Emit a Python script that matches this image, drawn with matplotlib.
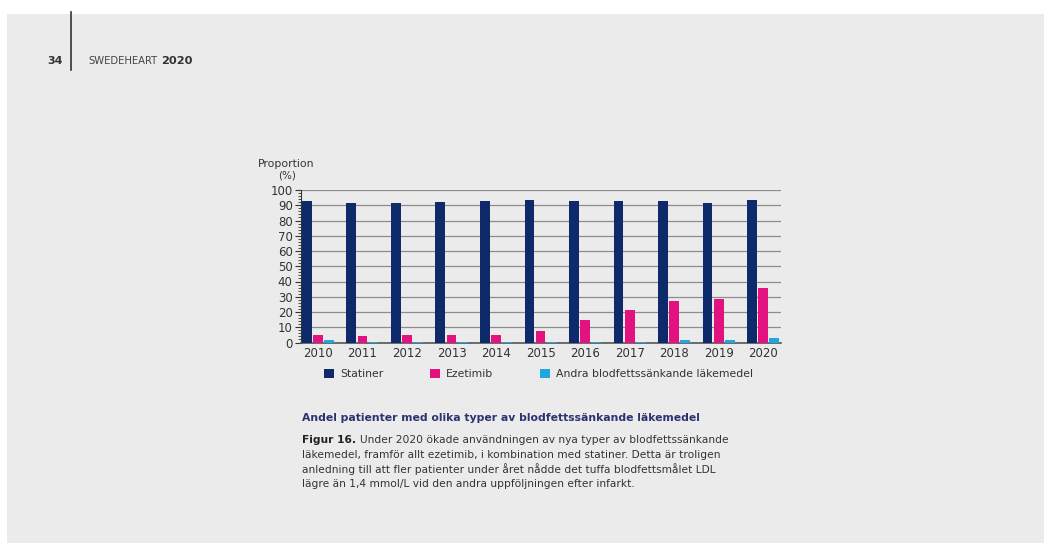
import matplotlib.pyplot as plt
import numpy as np
from matplotlib.patches import Rectangle
from matplotlib.ticker import MultipleLocator

plt.rcParams['font.family'] = ['DejaVu Sans']

years = ['2010', '2011', '2012', '2013', '2014', '2015',
         '2016', '2017', '2018', '2019', '2020']
statiner = [92.8, 91.7, 91.7, 92.1, 92.8, 93.4, 92.8, 92.8, 92.8, 91.7, 93.4]
ezetimib = [4.8, 4.2, 4.8, 4.8, 4.8, 7.5, 14.9, 21.3, 27.0, 28.7, 36.0]
andra = [1.6, 0.6, 0.6, 0.6, 0.6, 0.6, 0.6, 0.6, 1.5, 1.5, 2.9]
labels = ['Statiner', 'Ezetimib', 'Andra blodfettssänkande läkemedel']
colors = ['#0e2a6a', '#e2137f', '#1ea7e1']

bg = '#ebebeb'
fig = plt.figure(figsize=(10.44, 5.43), dpi=100, facecolor='white')
fig.patches.append(Rectangle((7 / 1044, 0), 1, 1 - 14 / 543,
                             transform=fig.transFigure, facecolor=bg,
                             edgecolor='none', zorder=-10))

ax = fig.add_axes([301 / 1044, 1 - 342.5 / 543, 480 / 1044, 152.5 / 543])
ax.set_facecolor(bg)

x = np.arange(len(years))
w = 0.22
for i, (vals, lab, col) in enumerate(zip([statiner, ezetimib, andra], labels, colors)):
    ax.bar(x + (i - 1) * 0.25, vals, width=w, color=col, label=lab, zorder=3)

ax.set_ylim(0, 100)
ax.set_xlim(-0.38, 10.4)
ax.set_xticks(x)
ax.set_xticklabels(years)
ax.set_yticks(range(0, 101, 10))
ax.yaxis.set_minor_locator(MultipleLocator(2))
ax.tick_params(axis='x', length=0, pad=3, labelsize=8.5, colors='#333333')
ax.tick_params(axis='y', which='major', length=4, width=0.8, pad=2,
               labelsize=8.5, colors='#333333')
ax.tick_params(axis='y', which='minor', length=2.5, width=0.6, color='#333333')
ax.grid(axis='y', color='#8c8c8c', linewidth=0.9, zorder=0)
for s in ['top', 'right']:
    ax.spines[s].set_visible(False)
ax.spines['left'].set_color('#333333')
ax.spines['bottom'].set_color('#555555')
ax.spines['bottom'].set_linewidth(1.2)

ax.text(-0.03, 1.135, 'Proportion', transform=ax.transAxes, ha='center',
        va='bottom', fontsize=7.8, color='#333333')
ax.text(-0.03, 1.13, '(%)', transform=ax.transAxes, ha='center',
        va='top', fontsize=7.5, color='#333333')

fig.legend(loc='upper left', bbox_to_anchor=(314 / 1044, 1 - 359 / 543),
           ncol=3, frameon=False, fontsize=7.8, handlelength=0.9,
           handleheight=0.9, columnspacing=4.3, handletextpad=0.6,
           labelcolor='#333333')

# page header
fig.text(47 / 1044, 1 - 61 / 543, '34', fontsize=8, fontweight='bold',
         color='#333333', va='center')
fig.add_artist(plt.Line2D([71 / 1044, 71 / 1044], [1 - 12 / 543, 1 - 70 / 543],
                          color='#333333', linewidth=1.2))
t = fig.text(88 / 1044, 1 - 61 / 543, 'SWEDEHEART', fontsize=7.2,
             color='#444444', va='center')
ax.annotate('2020', xy=(1, 0.5), xycoords=t, xytext=(3, 0),
            textcoords='offset points', fontsize=8.2, fontweight='bold',
            color='#333333', va='center', annotation_clip=False)

# caption
fig.text(302 / 1044, 1 - 418 / 543,
         'Andel patienter med olika typer av blodfettssänkande läkemedel',
         fontsize=7.8, fontweight='bold', color='#2b3370', va='center')
body = ['Under 2020 ökade användningen av nya typer av blodfettssänkande',
        'läkemedel, framför allt ezetimib, i kombination med statiner. Detta är troligen',
        'anledning till att fler patienter under året nådde det tuffa blodfettsmålet LDL',
        'lägre än 1,4 mmol/L vid den andra uppföljningen efter infarkt.']
f = fig.text(302 / 1044, 1 - 440 / 543, 'Figur 16.', fontsize=7.7,
             fontweight='bold', color='#222222', va='center')
ax.annotate(body[0], xy=(1, 0.5), xycoords=f, xytext=(3, 0),
            textcoords='offset points', fontsize=7.7, color='#333333',
            va='center', annotation_clip=False)
for i, line in enumerate(body[1:], start=1):
    fig.text(302 / 1044, 1 - (440 + 14.6 * i) / 543, line, fontsize=7.7,
             color='#333333', va='center')

fig.savefig('out.png', dpi=100, facecolor=fig.get_facecolor())
